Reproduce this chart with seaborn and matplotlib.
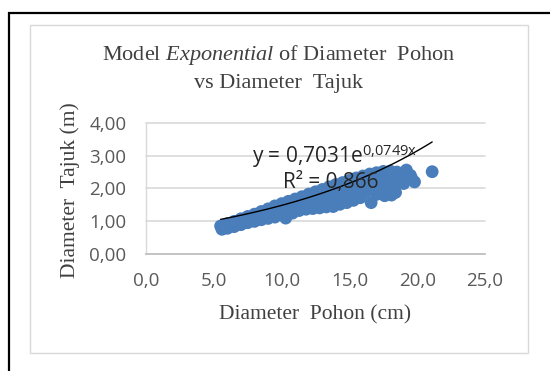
import numpy as np
import matplotlib
matplotlib.use('Agg')
import matplotlib.pyplot as plt
import seaborn as sns
from matplotlib.patches import Rectangle
from matplotlib.ticker import FuncFormatter

# Data: tree diameter (cm) vs crown diameter (m)
diam_pohon = [5.5, 6.0, 6.5, 7.0, 7.5, 8.0, 8.5, 9.0, 9.5, 10.0, 10.5, 11.0, 11.5, 12.0,
              12.5, 13.0, 13.5, 14.0, 14.5, 15.0, 15.5, 16.0, 16.5, 17.0, 17.5, 18.0, 18.5,
              5.6, 6.0, 6.5, 7.0, 7.5, 8.0, 8.5, 9.0, 9.5, 10.3, 10.8, 11.3, 11.8, 12.3,
              12.8, 13.3, 13.8, 14.3, 14.8, 15.3, 15.8, 16.6, 17.0, 17.6, 18.1, 18.4,
              6.2, 7.2, 8.2, 9.2, 9.8, 10.5, 11.2, 11.8, 12.4, 13.0, 13.6, 14.2, 14.8,
              15.4, 16.0, 16.5, 17.2, 17.8, 18.3,
              13.5, 14.2, 15.0, 15.6, 16.2, 16.8, 17.3, 18.0, 14.6, 15.3, 16.0, 16.8, 17.5, 18.2,
              18.8, 19.2, 19.5, 19.6, 19.8, 19.0, 21.1]
diam_tajuk = [0.86, 0.93, 1.00, 1.08, 1.15, 1.22, 1.30, 1.38, 1.47, 1.54, 1.61, 1.68, 1.75, 1.83,
              1.90, 1.97, 2.05, 2.12, 2.18, 2.25, 2.32, 2.38, 2.44, 2.48, 2.52, 2.53, 2.50,
              0.76, 0.79, 0.84, 0.90, 0.96, 1.00, 1.05, 1.09, 1.13, 1.10, 1.25, 1.33, 1.37, 1.39,
              1.41, 1.44, 1.45, 1.52, 1.57, 1.64, 1.72, 1.57, 1.82, 1.78, 1.80, 1.88,
              0.86, 0.99, 1.11, 1.23, 1.32, 1.40, 1.50, 1.58, 1.62, 1.68, 1.73, 1.82, 1.88,
              1.95, 2.05, 2.10, 2.15, 2.20, 2.20,
              1.58, 1.65, 1.75, 1.85, 1.90, 2.00, 1.98, 2.05, 2.02, 2.10, 2.22, 2.30, 2.35, 2.38,
              2.35, 2.56, 2.40, 2.30, 2.20, 2.15, 2.51]

# Exponential trendline coefficients shown on the chart
coef_a = 0.7031
coef_b = 0.0749
r_squared = 0.866

sns.set_style('white')
plt.rcParams['font.family'] = ['Open Sans', 'DejaVu Sans']
plt.rcParams['mathtext.fontset'] = 'custom'
plt.rcParams['mathtext.rm'] = 'Liberation Serif'
plt.rcParams['mathtext.it'] = 'Liberation Serif:italic'
plt.rcParams['mathtext.sf'] = 'Open Sans'

fig = plt.figure(figsize=(5.5, 3.71), dpi=100)
ax = fig.add_axes([0.2655, 0.3146, 0.6164, 0.3547])

# chart frame
fig.patches.append(Rectangle((0.0164, -0.2), 2, 0.965 + 0.2, transform=fig.transFigure,
                             fill=False, edgecolor='black', lw=1.6))
fig.patches.append(Rectangle((0.0545, 0.0485), 0.9055, 0.884, transform=fig.transFigure,
                             fill=False, edgecolor='#d9d9d9', lw=1.0))

sns.scatterplot(x=diam_pohon, y=diam_tajuk, ax=ax, color='#4a7ebb', s=85,
                edgecolor='none', zorder=3)

trend_x = np.linspace(min(diam_pohon), max(diam_pohon), 100)
trend_y = coef_a * np.exp(coef_b * trend_x)
sns.lineplot(x=trend_x, y=trend_y, ax=ax, color='black', lw=1.0, zorder=4)

ax.set_xlim(0, 25)
ax.set_ylim(0, 4)
ax.set_xticks(np.arange(0, 26, 5))
ax.set_yticks(np.arange(0, 5, 1))
ax.xaxis.set_major_formatter(FuncFormatter(lambda v, p: f'{v:.1f}'.replace('.', ',')))
ax.yaxis.set_major_formatter(FuncFormatter(lambda v, p: f'{v:.2f}'.replace('.', ',')))
ax.tick_params(axis='both', length=0, labelsize=13.5, colors='#595959')
ax.tick_params(axis='x', pad=13)
ax.tick_params(axis='y', pad=14)
ax.yaxis.grid(True, color='#d9d9d9', lw=1.2)
for gl in ax.get_ygridlines():
    gl.set_clip_on(False)
for s in ['top', 'right']:
    ax.spines[s].set_visible(False)
ax.spines['left'].set_color('#d9d9d9')
ax.spines['bottom'].set_color('#bfbfbf')
ax.spines['left'].set_linewidth(1.0)
ax.spines['bottom'].set_linewidth(1.2)

ax.text(7.8, 2.78, 'y = 0,7031e$^{\\mathsf{0{,}0749x}}$', fontsize=15, color='#262626',
        ha='left', va='baseline', zorder=5)
ax.text(10.1, 2.0, 'R² = ' + f'{r_squared:.3f}'.replace('.', ','), fontsize=15,
        color='#262626', ha='left', va='baseline', zorder=5)

serif = 'Liberation Serif'
fig.text(0.507, 0.852, 'Model $\\mathit{Exponential}$ of Diameter  Pohon', family=serif,
         fontsize=16, color='#404040', ha='center', va='center')
fig.text(0.507, 0.776, 'vs Diameter  Tajuk', family=serif, fontsize=16, color='#404040',
         ha='center', va='center')
fig.text(0.127, 0.488, 'Diameter  Tajuk (m)', family=serif, fontsize=15.5, color='#404040',
         ha='center', va='center', rotation=90)
fig.text(0.573, 0.152, 'Diameter  Pohon (cm)', family=serif, fontsize=15.5, color='#404040',
         ha='center', va='center')

fig.savefig('out.png', dpi=100)
